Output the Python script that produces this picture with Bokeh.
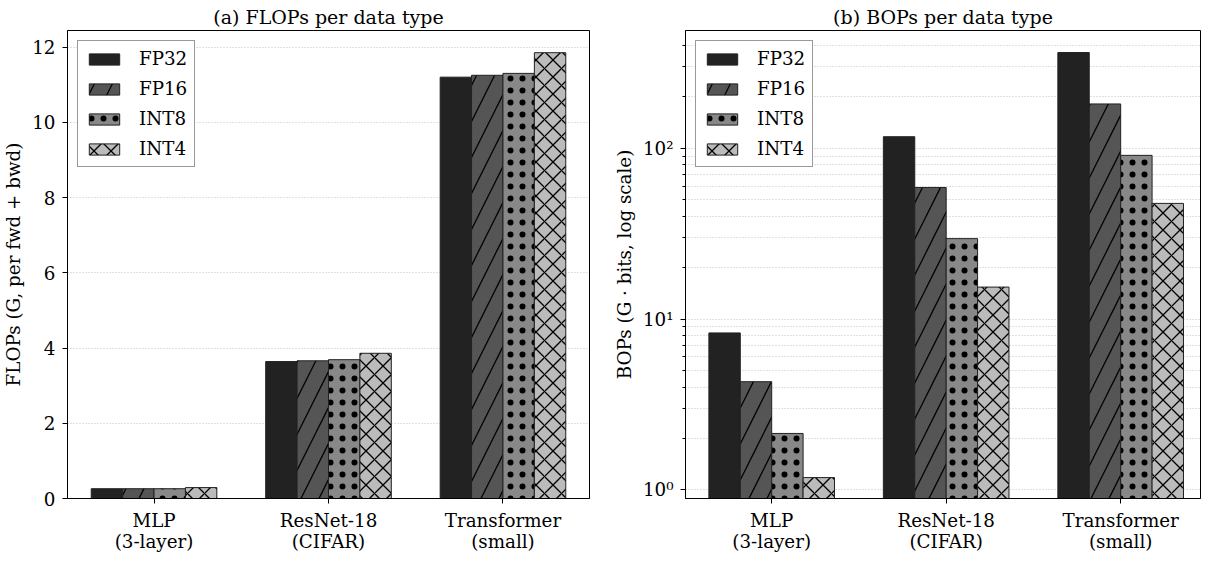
from bokeh.plotting import figure
from bokeh.layouts import row
from bokeh.models import FixedTicker, Range1d, Legend, LegendItem, LinearAxis
from bokeh.embed import file_html
from bokeh.resources import INLINE

# ---- data ----
model_labels = ["MLP\n(3-layer)", "ResNet-18\n(CIFAR)", "Transformer\n(small)"]
dtypes = ["FP32", "FP16", "INT8", "INT4"]

flops_fp32 = [0.26, 3.64, 11.20]
flops_fp16 = [0.26, 3.66, 11.25]
flops_int8 = [0.26, 3.69, 11.30]
flops_int4 = [0.29, 3.86, 11.85]

bops_fp32 = [8.3, 117.0, 364.0]
bops_fp16 = [4.3, 59.0, 182.0]
bops_int8 = [2.14, 29.6, 91.0]
bops_int4 = [1.18, 15.4, 47.6]

flops_ticks = [0, 2, 4, 6, 8, 10, 12]
bops_ticks = [1, 10, 100]
bops_tick_labels = ["10\u2070", "10\u00b9", "10\u00b2"]
bops_minor = [2, 3, 4, 5, 6, 7, 8, 9, 20, 30, 40, 50, 60, 70, 80, 90, 200, 300, 400]

# ---- styles ----
FONT = "DejaVu Serif"
FS = "18.3px"
FS_TITLE = "19px"
fills = ["#222222", "#555555", "#888888", "#bbbbbb"]
hatches = [None, "/", ".", "x"]
hatch_scales = [16, 36, 12, 17]
hatch_weights = [1, 1.3, 0.3, 1.3]
BW = 0.18


def style(p):
    p.background_fill_color = "white"
    p.border_fill_color = "white"
    p.outline_line_color = "black"
    p.outline_line_width = 1
    p.title.text_font = FONT
    p.title.text_font_size = FS_TITLE
    p.title.text_font_style = "normal"
    p.title.text_color = "black"
    p.title.align = "center"
    p.title.standoff = 5
    for ax in (p.xaxis[0], p.yaxis[0]):
        ax.axis_line_color = "black"
        ax.axis_line_width = 1
        ax.major_tick_line_color = "black"
        ax.major_tick_out = 5
        ax.major_tick_in = 0
        ax.major_label_text_font = FONT
        ax.major_label_text_font_size = FS
        ax.major_label_text_color = "black"
        ax.major_label_standoff = 7
        ax.axis_label_text_font = FONT
        ax.axis_label_text_font_size = FS
        ax.axis_label_text_color = "black"
        ax.axis_label_text_font_style = "normal"
        ax.axis_label_standoff = 5
    p.xaxis.minor_tick_line_color = None
    p.xaxis[0].major_label_standoff = 6
    p.xgrid.visible = False
    p.ygrid.grid_line_color = "#b0b0b0"
    p.ygrid.grid_line_width = 0.8
    p.ygrid.grid_line_dash = "1 2"
    cat_ticks = list(range(len(model_labels)))
    first = [lab.split("\n")[0] for lab in model_labels]
    second = [lab.split("\n")[1] for lab in model_labels]
    p.xaxis[0].ticker = FixedTicker(ticks=cat_ticks)
    p.xaxis[0].major_label_overrides = dict(zip(cat_ticks, first))
    # second line of each category name, on a bare axis just below
    ax2 = LinearAxis(ticker=FixedTicker(ticks=cat_ticks),
                     major_label_overrides=dict(zip(cat_ticks, second)),
                     axis_line_color=None, major_tick_line_color=None,
                     minor_tick_line_color=None, major_tick_out=0,
                     major_tick_in=0, major_label_standoff=-3,
                     major_label_text_font=FONT, major_label_text_font_size=FS,
                     major_label_text_color="black")
    p.add_layout(ax2, "below")


def add_bars(p, series, bottom):
    items = []
    for j, vals in enumerate(series):
        xs = [i + (j - 1.5) * BW for i in range(len(vals))]
        kw = dict(x=xs, top=vals, bottom=bottom, width=BW,
                  fill_color=fills[j], line_color="#222222", line_width=1)
        if hatches[j]:
            kw.update(hatch_pattern=hatches[j], hatch_color="black",
                      hatch_weight=hatch_weights[j], hatch_scale=hatch_scales[j])
        r = p.vbar(**kw)
        items.append(LegendItem(label=dtypes[j], renderers=[r]))
    leg = Legend(items=items, location="top_left", margin=10, padding=7,
                 spacing=9, label_height=20, glyph_width=38, glyph_height=14,
                 label_standoff=16, border_line_color="#333333",
                 border_line_width=1, background_fill_color="white",
                 background_fill_alpha=1, label_text_font=FONT,
                 label_text_font_size=FS, label_text_color="black")
    p.add_layout(leg)


# ---- left panel ----
p1 = figure(width=610, height=554, output_backend="svg", toolbar_location=None,
            x_range=Range1d(-0.496, 2.496), y_range=Range1d(0, 12.44),
            title="(a) FLOPs per data type",
            min_border_left=64, min_border_right=21, min_border_top=30,
            min_border_bottom=54)
style(p1)
p1.yaxis.axis_label = "FLOPs (G, per fwd + bwd)"
p1.yaxis.ticker = FixedTicker(ticks=flops_ticks)
p1.yaxis.minor_tick_line_color = None
add_bars(p1, [flops_fp32, flops_fp16, flops_int8, flops_int4], 0)

# ---- right panel ----
p2 = figure(width=592, height=554, output_backend="svg", toolbar_location=None,
            x_range=Range1d(-0.494, 2.4575), y_range=Range1d(0.89, 490),
            y_axis_type="log", title="(b) BOPs per data type",
            min_border_left=72, min_border_right=2, min_border_top=30,
            min_border_bottom=54)
style(p2)
p2.yaxis.axis_label = "BOPs (G \u00b7 bits, log scale)"
p2.yaxis.ticker = FixedTicker(ticks=bops_ticks, minor_ticks=bops_minor)
p2.yaxis.major_label_overrides = {t: lab for t, lab in zip(bops_ticks, bops_tick_labels)}
p2.yaxis.minor_tick_line_color = "black"
p2.yaxis.minor_tick_out = 3
p2.yaxis.minor_tick_in = 0
p2.ygrid.minor_grid_line_color = "#b0b0b0"
p2.ygrid.minor_grid_line_width = 0.8
p2.ygrid.minor_grid_line_dash = "1 2"
add_bars(p2, [bops_fp32, bops_fp16, bops_int8, bops_int4], 1e-3)

layout = row(p1, p2)
open("out.html", "w").write(file_html(layout, INLINE))
